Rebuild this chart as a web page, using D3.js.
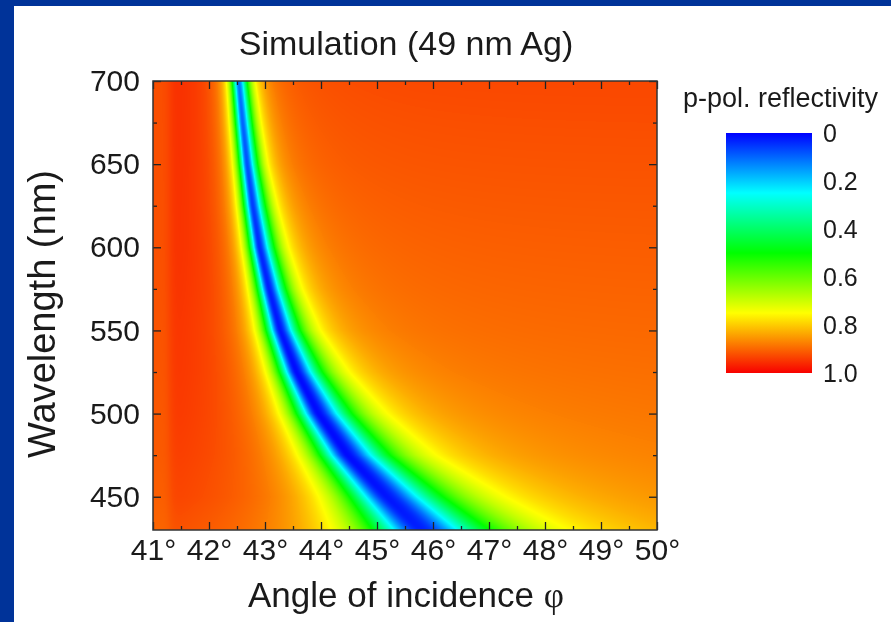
<!DOCTYPE html>
<html>
<head>
<meta charset="utf-8">
<script src="https://cdn.jsdelivr.net/npm/d3@7"></script>
<style>
  html, body { margin: 0; padding: 0; background: #ffffff; }
  body { width: 891px; height: 622px; overflow: hidden; position: relative; font-family: "Liberation Sans", Arial, sans-serif; }
  canvas, svg { position: absolute; left: 0; top: 0; }
</style>
</head>
<body>
<script>
// Surface plasmon resonance of a 49 nm silver film: dip parameters per wavelength (nm)
const wavelengths = [430, 450, 475, 500, 525, 550, 575, 600, 625, 650, 675, 700];
const dipAngle    = [45.78, 45.17, 44.47, 43.95, 43.56, 43.27, 43.07, 42.90, 42.78, 42.68, 42.60, 42.53];
const widthLeft   = [0.85, 0.65, 0.48, 0.38, 0.30, 0.25, 0.21, 0.18, 0.165, 0.15, 0.14, 0.13];
const widthRight  = [1.10, 0.90, 0.68, 0.54, 0.42, 0.33, 0.28, 0.25, 0.22, 0.19, 0.175, 0.16];
const dipMinimum  = [0.03, 0.02, 0.01, 0.01, 0.01, 0.02, 0.03, 0.04, 0.06, 0.08, 0.10, 0.12];
const levelLeft   = [0.955, 0.96, 0.962, 0.965, 0.965, 0.965, 0.965, 0.965, 0.965, 0.965, 0.965, 0.965];
const levelRight  = [0.875, 0.88, 0.885, 0.89, 0.895, 0.90, 0.905, 0.91, 0.915, 0.92, 0.925, 0.93];
// total-internal-reflection edge of the prism
const edgeAngle = 41.3;
const edgeLevel = 0.93;

// axes and colour bar
const angleTicks      = [41, 42, 43, 44, 45, 46, 47, 48, 49, 50];
const angleMinor      = [41.5, 42.5, 43.5, 44.5, 45.5, 46.5, 47.5, 48.5, 49.5];
const wavelengthTicks = [450, 500, 550, 600, 650, 700];
const wavelengthMinor = [475, 525, 575, 625, 675];
const colorStops  = [0, 0.25, 0.5, 0.75, 1];
const colorValues = ["#0000ff", "#00ffff", "#00ff00", "#ffff00", "#f80000"];
const legendTicks = [0, 0.2, 0.4, 0.6, 0.8, 1.0];

const W = 891, H = 622;
const plot = { left: 153, top: 81, right: 657, bottom: 530 };

const x = d3.scaleLinear().domain([41, 50]).range([plot.left, plot.right]);
const y = d3.scaleLinear().domain([430, 700]).range([plot.bottom, plot.top]);
const color = d3.scaleLinear().domain(colorStops).range(colorValues).interpolate(d3.interpolateRgb).clamp(true);

const along = arr => d3.scaleLinear().domain(wavelengths).range(arr).clamp(true);
const fAngle = along(dipAngle), fWL = along(widthLeft), fWR = along(widthRight),
      fMin = along(dipMinimum), fLL = along(levelLeft), fLR = along(levelRight);

function reflectivity(a, p) {
  const d = a - p.a0;
  const g = d < 0 ? p.gl : p.gr;
  const lor = g * g / (d * d + g * g);
  let base;
  if (d < 0) {
    const t = 1 / (1 + Math.exp(-(a - edgeAngle) / 0.05));
    base = edgeLevel + (p.ll - edgeLevel) * t;
  } else {
    base = p.lr;
  }
  return base - (base - p.rmin) * lor;
}

// heat map raster
const pw = plot.right - plot.left, ph = plot.bottom - plot.top;
const canvas = d3.select("body").append("canvas")
  .attr("width", pw).attr("height", ph)
  .style("left", plot.left + "px").style("top", plot.top + "px");
const ctx = canvas.node().getContext("2d");
const img = ctx.createImageData(pw, ph);
const lut = d3.range(1001).map(i => d3.rgb(color(i / 1000)));
for (let j = 0; j < ph; j++) {
  const w = y.invert(plot.top + j + 0.5);
  const p = { a0: fAngle(w), gl: fWL(w), gr: fWR(w), rmin: fMin(w), ll: fLL(w), lr: fLR(w) };
  for (let i = 0; i < pw; i++) {
    const a = x.invert(plot.left + i + 0.5);
    const r = Math.max(0, Math.min(1, reflectivity(a, p)));
    const c = lut[Math.round(r * 1000)];
    const k = (j * pw + i) * 4;
    img.data[k] = c.r; img.data[k + 1] = c.g; img.data[k + 2] = c.b; img.data[k + 3] = 255;
  }
}
ctx.putImageData(img, 0, 0);

// vector layer
const svg = d3.select("body").append("svg").attr("width", W).attr("height", H);

// slide frame
svg.append("rect").attr("x", 0).attr("y", 0).attr("width", 14).attr("height", H).attr("fill", "#003399");
svg.append("rect").attr("x", 0).attr("y", 0).attr("width", W).attr("height", 6).attr("fill", "#003399");

const tickFont = 30;
function styleAxis(g) {
  g.select(".domain").remove();
  g.selectAll(".tick line").attr("stroke", "#222").attr("stroke-width", 1.3);
  g.selectAll(".tick text").attr("font-family", "'Liberation Sans', Arial, sans-serif")
    .attr("font-size", tickFont).attr("fill", "#1a1a1a");
}

// bottom axis with labels
svg.append("g").attr("transform", `translate(0,${plot.bottom})`)
  .call(d3.axisBottom(x).tickValues(angleTicks).tickSize(-8).tickPadding(9).tickFormat(d => d + "°"))
  .call(styleAxis);
svg.append("g").attr("transform", `translate(0,${plot.bottom})`)
  .call(d3.axisBottom(x).tickValues(angleMinor).tickSize(-4).tickFormat(""))
  .call(styleAxis);
// top axis
svg.append("g").attr("transform", `translate(0,${plot.top})`)
  .call(d3.axisTop(x).tickValues(angleTicks).tickSize(-8).tickFormat(""))
  .call(styleAxis);
svg.append("g").attr("transform", `translate(0,${plot.top})`)
  .call(d3.axisTop(x).tickValues(angleMinor).tickSize(-4).tickFormat(""))
  .call(styleAxis);
// left axis with labels
svg.append("g").attr("transform", `translate(${plot.left},0)`)
  .call(d3.axisLeft(y).tickValues(wavelengthTicks).tickSize(-8).tickPadding(13).tickFormat(d3.format("d")))
  .call(styleAxis);
svg.append("g").attr("transform", `translate(${plot.left},0)`)
  .call(d3.axisLeft(y).tickValues(wavelengthMinor).tickSize(-4).tickFormat(""))
  .call(styleAxis);
// right axis
svg.append("g").attr("transform", `translate(${plot.right},0)`)
  .call(d3.axisRight(y).tickValues(wavelengthTicks).tickSize(-8).tickFormat(""))
  .call(styleAxis);
svg.append("g").attr("transform", `translate(${plot.right},0)`)
  .call(d3.axisRight(y).tickValues(wavelengthMinor).tickSize(-4).tickFormat(""))
  .call(styleAxis);

// plot frame
svg.append("rect")
  .attr("x", plot.left).attr("y", plot.top)
  .attr("width", pw).attr("height", ph)
  .attr("fill", "none").attr("stroke", "#333").attr("stroke-width", 1.5);

// titles
svg.append("text").attr("x", 406).attr("y", 55)
  .attr("text-anchor", "middle").attr("font-size", 34).attr("fill", "#1a1a1a")
  .text("Simulation (49 nm Ag)");

const xt = svg.append("text").attr("x", 406).attr("y", 607)
  .attr("text-anchor", "middle").attr("font-size", 35).attr("fill", "#1a1a1a");
xt.append("tspan").text("Angle of incidence ");
xt.append("tspan").attr("font-family", "'Liberation Serif', serif").text("φ");

svg.append("text")
  .attr("transform", `translate(55,314) rotate(-90)`)
  .attr("text-anchor", "middle").attr("font-size", 38).attr("fill", "#1a1a1a")
  .text("Wavelength (nm)");

// colour bar
const bar = { x: 726, y: 133, w: 86, h: 240 };
const ly = d3.scaleLinear().domain([0, 1]).range([bar.y, bar.y + bar.h]);
const grad = svg.append("defs").append("linearGradient")
  .attr("id", "reflGrad").attr("x1", 0).attr("y1", 0).attr("x2", 0).attr("y2", 1);
grad.selectAll("stop").data(colorStops).join("stop")
  .attr("offset", d => d).attr("stop-color", d => color(d));
svg.append("rect").attr("x", bar.x).attr("y", bar.y).attr("width", bar.w).attr("height", bar.h)
  .attr("fill", "url(#reflGrad)");
svg.append("g").attr("transform", `translate(${bar.x + bar.w},0)`)
  .call(d3.axisRight(ly).tickValues(legendTicks).tickSize(0).tickPadding(11)
    .tickFormat(d => d === 0 ? "0" : d3.format(".1f")(d)))
  .call(g => {
    g.select(".domain").remove();
    g.selectAll(".tick text").attr("font-family", "'Liberation Sans', Arial, sans-serif")
      .attr("font-size", 25).attr("fill", "#1a1a1a");
  });
svg.append("text").attr("x", 683).attr("y", 107)
  .attr("font-size", 27).attr("fill", "#1a1a1a")
  .text("p-pol. reflectivity");
</script>
</body>
</html>
